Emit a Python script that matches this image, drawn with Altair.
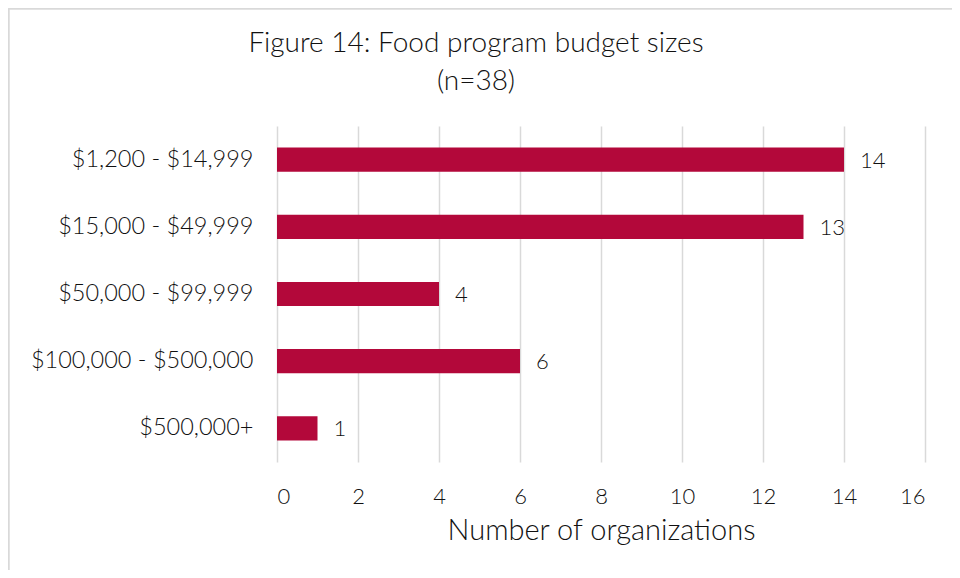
import altair as alt
import pandas as pd

categories = ["$1,200 - $14,999", "$15,000 - $49,999", "$50,000 - $99,999",
              "$100,000 - $500,000", "$500,000+"]
counts = [14, 13, 4, 6, 1]

df = pd.DataFrame({"budget": categories, "count": counts})

FONT = "Lato"
W = 300
TEXT = "#111111"
BAR = "#B3083A"

base = alt.Chart(df)

bars = base.mark_bar(color=BAR).encode(
    y=alt.Y("budget:N", sort=categories, title=None,
            scale=alt.Scale(paddingInner=0.64, paddingOuter=0.32),
            axis=alt.Axis(labelFontSize=23.5, labelColor=TEXT, labelFont=FONT,
                          labelFontWeight=W, labelLimit=400,
                          ticks=False, domain=False, labelPadding=24)),
    x=alt.X("count:Q", title="Number of organizations",
            scale=alt.Scale(domain=[0, 16], nice=False),
            axis=alt.Axis(values=list(range(0, 17, 2)), labelFontSize=22,
                          labelColor=TEXT, labelFont=FONT, labelFontWeight=W,
                          ticks=False, domain=False, grid=True,
                          gridColor="#d9d9d9", gridWidth=1.5, labelPadding=24,
                          titleFontSize=29, titleFont=FONT, titleColor=TEXT,
                          titleFontWeight=W, titlePadding=9)),
)

labels = base.mark_text(align="left", dx=16, fontSize=22, font=FONT,
                        fontWeight=W, color=TEXT, dy=1).encode(
    y=alt.Y("budget:N", sort=categories),
    x="count:Q",
    text="count:Q",
)

border = alt.Chart(df).mark_rule(color="#d9d9d9", strokeWidth=1.5).encode(
    x=alt.value(-268.5), y=alt.value(-117.5), y2=alt.value(470)
)
border_top = alt.Chart(df).mark_rule(color="#d9d9d9", strokeWidth=1.5).encode(
    x=alt.value(-268.5), x2=alt.value(700), y=alt.value(-117.5)
)

chart = alt.layer(bars, labels, border, border_top).properties(
    width=648, height=336,
    background="white",
    autosize=alt.AutoSizeParams(type="none"),
    padding={"left": 269, "top": 118, "right": 27, "bottom": 108},
    title=alt.TitleParams(text=["Figure 14: Food program budget sizes", "(n=38)"],
                          fontSize=28, font=FONT, color=TEXT,
                          fontWeight=W, anchor="middle", offset=-88, dx=-125,
                          lineHeight=38),
).configure_view(stroke="transparent", strokeWidth=0)

chart.save("out.html", embed_options={"renderer": "svg", "actions": False})
